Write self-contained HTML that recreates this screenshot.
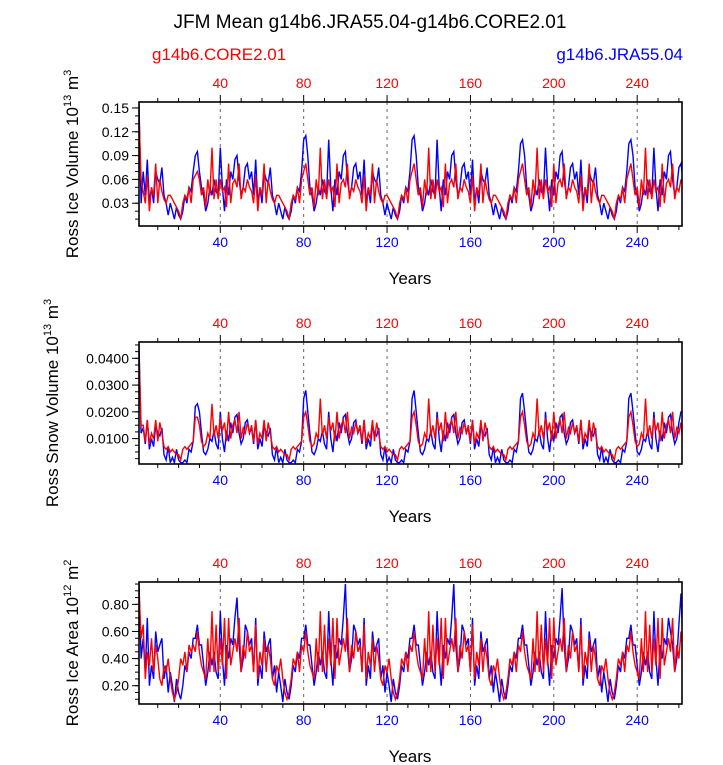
<!DOCTYPE html>
<html><head><meta charset="utf-8"><style>
body{margin:0;background:#fff;}
svg{display:block;font-family:"Liberation Sans",sans-serif;}
</style></head><body>
<svg id="chart" width="723" height="765" viewBox="0 0 723 765">
<text x="370" y="28" font-size="19" text-anchor="middle">JFM Mean g14b6.JRA55.04-g14b6.CORE2.01</text>
<text x="152" y="60" font-size="17" fill="#f00">g14b6.CORE2.01</text>
<text x="683" y="60" font-size="17" fill="#00f" text-anchor="end">g14b6.JRA55.04</text>
</svg>
<script>
const coreTicks = [40, 80, 120, 160, 200, 240];
const jraTicks = [40, 80, 120, 160, 200, 240];
const volTicks = [0.03, 0.06, 0.09, 0.12, 0.15];
const volTickLabels = ["0.03", "0.06", "0.09", "0.12", "0.15"];
const snowTicks = [0.01, 0.02, 0.03, 0.04];
const snowTickLabels = ["0.0100", "0.0200", "0.0300", "0.0400"];
const areaTicks = [0.2, 0.4, 0.6, 0.8];
const areaTickLabels = ["0.20", "0.40", "0.60", "0.80"];

const volJRA = [0.155,0.03,0.07,0.04,0.085,0.03,0.05,0.03,0.07,0.06,0.055,0.075,0.04,0.03,0.015,0.03,0.02,0.01,0.025,0.015,0.01,0.02,0.04,0.03,0.05,0.045,0.07,
0.09,0.095,0.07,0.05,0.04,0.02,0.03,0.05,0.04,0.06,0.045,0.04,0.1,0.05,0.02,0.06,0.04,0.07,0.06,0.085,0.09,0.06,0.04,0.05,0.075,0.08,0.06,0.07,0.04,0.085,0.03,0.05,0.03,0.07,0.06,0.055,0.075,0.04,0.03,0.015,0.03,0.02,0.01,0.025,0.015,0.01,0.02,0.04,0.03,0.05,0.045,0.07,
0.11,0.115,0.09,0.05,0.04,0.02,0.03,0.05,0.04,0.06,0.045,0.04,0.11,0.05,0.02,0.06,0.04,0.07,0.06,0.09,0.095,0.06,0.04,0.05,0.075,0.08,0.06,0.07,0.04,0.085,0.03,0.05,0.03,0.07,0.06,0.055,0.075,0.04,0.03,0.015,0.03,0.02,0.01,0.025,0.015,0.01,0.02,0.04,0.03,0.05,0.045,0.07,
0.11,0.115,0.09,0.05,0.04,0.02,0.03,0.05,0.04,0.06,0.045,0.04,0.11,0.05,0.02,0.06,0.04,0.07,0.06,0.09,0.095,0.06,0.04,0.05,0.075,0.08,0.06,0.07,0.04,0.085,0.03,0.05,0.03,0.07,0.06,0.055,0.075,0.04,0.03,0.015,0.03,0.02,0.01,0.025,0.015,0.01,0.02,0.04,0.03,0.05,0.045,0.07,
0.105,0.11,0.09,0.05,0.04,0.02,0.03,0.05,0.04,0.06,0.045,0.04,0.1,0.05,0.02,0.06,0.04,0.07,0.06,0.09,0.095,0.06,0.04,0.05,0.075,0.08,0.06,0.07,0.04,0.085,0.03,0.05,0.03,0.07,0.06,0.055,0.075,0.04,0.03,0.015,0.03,0.02,0.01,0.025,0.015,0.01,0.02,0.04,0.03,0.05,0.045,0.07,
0.105,0.11,0.09,0.05,0.04,0.02,0.03,0.05,0.04,0.06,0.045,0.04,0.1,0.05,0.02,0.06,0.04,0.07,0.06,0.09,0.095,0.06,0.04,0.05,0.075,0.08,0.06];
const volCORE = [0.14,0.06,0.045,0.03,0.065,0.02,0.05,0.04,0.08,0.03,0.06,0.045,0.035,0.03,0.04,0.04,0.035,0.03,0.025,0.02,0.01,0.03,0.04,0.035,0.05,0.03,0.06,
0.065,0.07,0.06,0.04,0.05,0.025,0.06,0.04,0.1,0.035,0.06,0.035,0.06,0.045,0.05,0.025,0.08,0.03,0.055,0.06,0.05,0.08,0.035,0.05,0.045,0.06,0.05,0.045,0.03,0.065,0.02,0.05,0.04,0.08,0.03,0.06,0.045,0.035,0.03,0.04,0.04,0.035,0.03,0.025,0.02,0.01,0.03,0.04,0.035,0.05,0.03,0.06,
0.07,0.08,0.06,0.04,0.05,0.025,0.06,0.04,0.1,0.035,0.06,0.035,0.06,0.045,0.05,0.025,0.08,0.03,0.055,0.06,0.05,0.08,0.035,0.05,0.045,0.06,0.05,0.045,0.03,0.065,0.02,0.05,0.04,0.08,0.03,0.06,0.045,0.035,0.03,0.04,0.04,0.035,0.03,0.025,0.02,0.01,0.03,0.04,0.035,0.05,0.03,0.06,
0.07,0.08,0.06,0.04,0.05,0.025,0.06,0.04,0.1,0.035,0.06,0.035,0.06,0.045,0.05,0.025,0.08,0.03,0.055,0.06,0.05,0.08,0.035,0.05,0.045,0.06,0.05,0.045,0.03,0.065,0.02,0.05,0.04,0.08,0.03,0.06,0.045,0.035,0.03,0.04,0.04,0.035,0.03,0.025,0.02,0.01,0.03,0.04,0.035,0.05,0.03,0.06,
0.07,0.08,0.06,0.04,0.05,0.025,0.06,0.04,0.1,0.035,0.06,0.035,0.06,0.045,0.05,0.025,0.08,0.03,0.055,0.06,0.05,0.08,0.035,0.05,0.045,0.06,0.05,0.045,0.03,0.065,0.02,0.05,0.04,0.08,0.03,0.06,0.045,0.035,0.03,0.04,0.04,0.035,0.03,0.025,0.02,0.01,0.03,0.04,0.035,0.05,0.03,0.06,
0.07,0.08,0.06,0.04,0.05,0.025,0.06,0.04,0.1,0.035,0.06,0.035,0.06,0.045,0.05,0.025,0.08,0.03,0.055,0.06,0.05,0.08,0.035,0.05,0.045,0.06,0.05];

const snowJRA = [0.045,0.012,0.014,0.008,0.017,0.006,0.01,0.007,0.015,0.012,0.011,0.014,0.004,0.002,0.007,0.001,0.003,0.001,0.006,0.002,0.001,0.001,0.002,0.001,0.006,0.005,0.009,
0.022,0.023,0.02,0.012,0.005,0.004,0.006,0.01,0.009,0.013,0.008,0.006,0.02,0.01,0.005,0.013,0.009,0.016,0.012,0.018,0.019,0.012,0.008,0.01,0.016,0.017,0.012,0.014,0.008,0.017,0.006,0.01,0.007,0.015,0.012,0.011,0.014,0.004,0.002,0.007,0.001,0.003,0.001,0.006,0.002,0.001,0.001,0.002,0.001,0.006,0.005,0.009,
0.025,0.028,0.02,0.012,0.005,0.004,0.006,0.01,0.009,0.013,0.008,0.006,0.02,0.01,0.005,0.013,0.009,0.016,0.012,0.018,0.019,0.012,0.008,0.01,0.016,0.017,0.012,0.014,0.008,0.017,0.006,0.01,0.007,0.015,0.012,0.011,0.014,0.004,0.002,0.007,0.001,0.003,0.001,0.006,0.002,0.001,0.001,0.002,0.001,0.006,0.005,0.009,
0.025,0.028,0.02,0.012,0.005,0.004,0.006,0.01,0.009,0.013,0.008,0.006,0.02,0.01,0.005,0.013,0.009,0.016,0.012,0.018,0.019,0.012,0.008,0.01,0.016,0.017,0.012,0.014,0.008,0.017,0.006,0.01,0.007,0.015,0.012,0.011,0.014,0.004,0.002,0.007,0.001,0.003,0.001,0.006,0.002,0.001,0.001,0.002,0.001,0.006,0.005,0.009,
0.025,0.027,0.02,0.012,0.005,0.004,0.006,0.01,0.009,0.013,0.008,0.006,0.02,0.01,0.005,0.013,0.009,0.016,0.012,0.018,0.019,0.012,0.008,0.01,0.016,0.017,0.012,0.014,0.008,0.017,0.006,0.01,0.007,0.015,0.012,0.011,0.014,0.004,0.002,0.007,0.001,0.003,0.001,0.006,0.002,0.001,0.001,0.002,0.001,0.006,0.005,0.009,
0.025,0.027,0.02,0.012,0.005,0.004,0.006,0.01,0.009,0.013,0.008,0.006,0.02,0.01,0.005,0.013,0.009,0.016,0.012,0.018,0.019,0.012,0.008,0.01,0.016,0.02,0.02];
const snowCORE = [0.04,0.015,0.015,0.009,0.017,0.008,0.012,0.01,0.017,0.009,0.016,0.012,0.007,0.006,0.007,0.005,0.006,0.005,0.004,0.004,0.002,0.006,0.007,0.006,0.007,0.008,0.009,
0.018,0.018,0.015,0.009,0.007,0.008,0.012,0.01,0.023,0.011,0.015,0.01,0.018,0.013,0.016,0.009,0.02,0.01,0.015,0.017,0.012,0.02,0.01,0.014,0.012,0.016,0.012,0.015,0.009,0.017,0.008,0.012,0.01,0.017,0.009,0.016,0.012,0.007,0.006,0.007,0.005,0.006,0.005,0.004,0.004,0.002,0.006,0.007,0.006,0.007,0.008,0.009,
0.018,0.02,0.015,0.009,0.007,0.008,0.012,0.01,0.025,0.011,0.015,0.01,0.018,0.013,0.016,0.009,0.02,0.01,0.015,0.017,0.012,0.02,0.01,0.014,0.012,0.016,0.012,0.015,0.009,0.017,0.008,0.012,0.01,0.017,0.009,0.016,0.012,0.007,0.006,0.007,0.005,0.006,0.005,0.004,0.004,0.002,0.006,0.007,0.006,0.007,0.008,0.009,
0.018,0.02,0.015,0.009,0.007,0.008,0.012,0.01,0.025,0.011,0.015,0.01,0.018,0.013,0.016,0.009,0.02,0.01,0.015,0.017,0.012,0.02,0.01,0.014,0.012,0.016,0.012,0.015,0.009,0.017,0.008,0.012,0.01,0.017,0.009,0.016,0.012,0.007,0.006,0.007,0.005,0.006,0.005,0.004,0.004,0.002,0.006,0.007,0.006,0.007,0.008,0.009,
0.018,0.02,0.015,0.009,0.007,0.008,0.012,0.01,0.025,0.011,0.015,0.01,0.018,0.013,0.016,0.009,0.02,0.01,0.015,0.017,0.012,0.02,0.01,0.014,0.012,0.016,0.012,0.015,0.009,0.017,0.008,0.012,0.01,0.017,0.009,0.016,0.012,0.007,0.006,0.007,0.005,0.006,0.005,0.004,0.004,0.002,0.006,0.007,0.006,0.007,0.008,0.009,
0.018,0.02,0.015,0.009,0.007,0.008,0.012,0.01,0.025,0.011,0.015,0.01,0.018,0.013,0.016,0.009,0.02,0.01,0.015,0.017,0.012,0.02,0.01,0.014,0.012,0.016,0.008];

const areaJRA = [0.95,0.4,0.55,0.3,0.7,0.2,0.35,0.25,0.6,0.45,0.5,0.55,0.25,0.35,0.15,0.3,0.2,0.08,0.25,0.15,0.1,0.2,0.35,0.3,0.45,0.4,0.55,
0.55,0.65,0.5,0.5,0.35,0.2,0.3,0.45,0.35,0.45,0.3,0.25,0.75,0.4,0.2,0.5,0.4,0.55,0.5,0.7,0.85,0.5,0.3,0.4,0.65,0.6,0.5,0.55,0.3,0.7,0.2,0.35,0.25,0.6,0.45,0.5,0.55,0.25,0.35,0.15,0.3,0.2,0.08,0.25,0.15,0.1,0.2,0.35,0.3,0.45,0.4,0.55,
0.55,0.65,0.5,0.5,0.35,0.2,0.3,0.45,0.35,0.45,0.3,0.25,0.75,0.4,0.2,0.5,0.4,0.55,0.5,0.7,0.95,0.5,0.3,0.4,0.65,0.6,0.5,0.55,0.3,0.7,0.2,0.35,0.25,0.6,0.45,0.5,0.55,0.25,0.35,0.15,0.3,0.2,0.08,0.25,0.15,0.1,0.2,0.35,0.3,0.45,0.4,0.55,
0.55,0.65,0.5,0.5,0.35,0.2,0.3,0.45,0.35,0.45,0.3,0.25,0.75,0.4,0.2,0.5,0.4,0.55,0.5,0.7,0.95,0.5,0.3,0.4,0.65,0.6,0.5,0.55,0.3,0.7,0.2,0.35,0.25,0.6,0.45,0.5,0.55,0.25,0.35,0.15,0.3,0.2,0.08,0.25,0.15,0.1,0.2,0.35,0.3,0.45,0.4,0.55,
0.55,0.65,0.5,0.5,0.35,0.2,0.3,0.45,0.35,0.45,0.3,0.25,0.75,0.4,0.2,0.5,0.4,0.55,0.5,0.7,0.92,0.5,0.3,0.4,0.65,0.6,0.5,0.55,0.3,0.7,0.2,0.35,0.25,0.6,0.45,0.5,0.55,0.25,0.35,0.15,0.3,0.2,0.08,0.25,0.15,0.1,0.2,0.35,0.3,0.45,0.4,0.55,
0.55,0.65,0.5,0.5,0.35,0.2,0.3,0.45,0.35,0.45,0.3,0.25,0.75,0.4,0.2,0.5,0.4,0.55,0.5,0.7,0.6,0.5,0.3,0.4,0.65,0.88,0.5];
const areaCORE = [0.9,0.55,0.65,0.25,0.45,0.35,0.55,0.3,0.5,0.4,0.25,0.2,0.35,0.3,0.4,0.25,0.15,0.1,0.15,0.25,0.4,0.35,0.45,0.3,0.5,0.45,0.5,
0.45,0.6,0.45,0.35,0.3,0.25,0.55,0.3,0.75,0.3,0.65,0.3,0.55,0.35,0.7,0.25,0.7,0.35,0.45,0.55,0.45,0.7,0.3,0.5,0.4,0.6,0.45,0.5,0.3,0.65,0.25,0.45,0.35,0.55,0.3,0.5,0.4,0.25,0.2,0.35,0.3,0.4,0.25,0.15,0.1,0.15,0.25,0.4,0.35,0.45,0.3,0.5,
0.45,0.6,0.45,0.35,0.3,0.25,0.55,0.3,0.75,0.3,0.65,0.3,0.55,0.35,0.7,0.25,0.7,0.35,0.45,0.55,0.45,0.7,0.3,0.5,0.4,0.6,0.45,0.5,0.3,0.65,0.25,0.45,0.35,0.55,0.3,0.5,0.4,0.25,0.2,0.35,0.3,0.4,0.25,0.15,0.1,0.15,0.25,0.4,0.35,0.45,0.3,0.5,
0.45,0.6,0.45,0.35,0.3,0.25,0.55,0.3,0.75,0.3,0.65,0.3,0.55,0.35,0.7,0.25,0.7,0.35,0.45,0.55,0.45,0.7,0.3,0.5,0.4,0.6,0.45,0.5,0.3,0.65,0.25,0.45,0.35,0.55,0.3,0.5,0.4,0.25,0.2,0.35,0.3,0.4,0.25,0.15,0.1,0.15,0.25,0.4,0.35,0.45,0.3,0.5,
0.45,0.6,0.45,0.35,0.3,0.25,0.55,0.3,0.75,0.3,0.65,0.3,0.55,0.35,0.7,0.25,0.7,0.35,0.45,0.55,0.45,0.7,0.3,0.5,0.4,0.6,0.45,0.5,0.3,0.65,0.25,0.45,0.35,0.55,0.3,0.5,0.4,0.25,0.2,0.35,0.3,0.4,0.25,0.15,0.1,0.15,0.25,0.4,0.35,0.45,0.3,0.5,
0.45,0.6,0.45,0.35,0.3,0.25,0.55,0.3,0.75,0.3,0.65,0.3,0.55,0.35,0.7,0.25,0.7,0.35,0.45,0.55,0.45,0.7,0.3,0.5,0.4,0.6,0.45,0.5,0.3,0.65,0.6,0.5];

const NS = "http://www.w3.org/2000/svg";
const svg = document.getElementById("chart");
function mk(tag, attrs, parent) {
  const e = document.createElementNS(NS, tag);
  for (const k in attrs) e.setAttribute(k, attrs[k]);
  (parent || svg).appendChild(e);
  return e;
}
const X0 = 139, X1 = 682, YR0 = 1, YR1 = 261.5;
function xs(yr) { return X0 + (yr - YR0) / (YR1 - YR0) * (X1 - X0); }

function panel(cfg) {
  const g = mk("g", {});
  
  
  const ys = v => cfg.bot - (v - cfg.vmin) / (cfg.vmax - cfg.vmin) * (cfg.bot - cfg.top);
  // grid
  for (const t of coreTicks) {
    const l = mk("line", {x1: xs(t), x2: xs(t), y1: cfg.top, y2: cfg.bot, stroke: "#666", "stroke-dasharray": "3,4", "stroke-width": 1}, g);
    
    
  }
  // x ticks minor and major
  for (let yr = 10; yr <= 260; yr += 10) {
    const major = yr % 40 === 0;
    const len = major ? 7 : 4;
    mk("line", {x1: xs(yr), x2: xs(yr), y1: cfg.top, y2: cfg.top - len, stroke: "#000", "stroke-width": 1}, g);
    mk("line", {x1: xs(yr), x2: xs(yr), y1: cfg.bot, y2: cfg.bot + len, stroke: "#000", "stroke-width": 1}, g);
  }
  coreTicks.forEach(t => {
    const tx = mk("text", {x: xs(t), y: cfg.top - 14, "font-size": 14, fill: "#f00", "text-anchor": "middle"}, g);
    tx.textContent = t;
    
    
  });
  jraTicks.forEach(t => {
    const tx = mk("text", {x: xs(t), y: cfg.bot + 21, "font-size": 14, fill: "#00f", "text-anchor": "middle"}, g);
    tx.textContent = t;
    
    
  });
  // y minor
  for (let v = cfg.minorStart; v < cfg.vmax; v += cfg.minorStep) {
    if (v <= cfg.vmin) continue;
    mk("line", {x1: X0, x2: X0 - 4, y1: ys(v), y2: ys(v), stroke: "#000", "stroke-width": 1}, g);
  }
  cfg.ticks.forEach((t, i) => {
    mk("line", {x1: X0, x2: X0 - 7, y1: ys(t), y2: ys(t), stroke: "#000", "stroke-width": 1}, g);
    const tx = mk("text", {x: X0 - 10, y: ys(t) + 5, "font-size": 14, "text-anchor": "end"}, g);
    tx.textContent = cfg.labels[i];
    
    
  });
  // series
  const clip = mk("clipPath", {id: "c" + cfg.name}, g);
  mk("rect", {x: X0, y: cfg.top, width: X1 - X0, height: cfg.bot - cfg.top}, clip);
  [[cfg.jra, "#00f", "jra-line"], [cfg.core, "#f00", "core-line"]].forEach(([arr, col, nm]) => {
    const d = arr.map((v, i) => (i ? "L" : "M") + xs(i + 1).toFixed(1) + "," + ys(v).toFixed(1)).join("");
    const p = mk("path", {d: d, fill: "none", stroke: col, "stroke-width": 1.4, "clip-path": "url(#c" + cfg.name + ")"}, g);
    
    
  });
  const fr = mk("rect", {x: X0, y: cfg.top, width: X1 - X0, height: cfg.bot - cfg.top, fill: "none", stroke: "#000", "stroke-width": 1.6}, g);
  
  
  const xt = mk("text", {x: 410, y: cfg.bot + 58, "font-size": 17, "text-anchor": "middle"}, g);
  xt.textContent = "Years";
  
  
  const cy = (cfg.top + cfg.bot) / 2;
  const yt = mk("text", {x: cfg.tx, y: cy, "font-size": 17, "text-anchor": "middle", transform: "rotate(-90 " + cfg.tx + " " + cy + ")"}, g);
  yt.innerHTML = cfg.title + ' 10<tspan dy="-7" font-size="11">' + cfg.exp + '</tspan><tspan dy="7"> m</tspan><tspan dy="-7" font-size="11">' + cfg.unit + '</tspan>';
  
  
}

panel({name: "ice-volume-panel", top: 102, bot: 226, vmin: 0.0013, vmax: 0.1575, ticks: volTicks, labels: volTickLabels, minorStart: 0.01, minorStep: 0.01, jra: volJRA, core: volCORE, title: "Ross Ice Volume", exp: "13", unit: "3", tx: 78});
panel({name: "snow-volume-panel", top: 342, bot: 464, vmin: 0.0005, vmax: 0.0461, ticks: snowTicks, labels: snowTickLabels, minorStart: 0.0025, minorStep: 0.0025, jra: snowJRA, core: snowCORE, title: "Ross Snow Volume", exp: "13", unit: "3", tx: 58});
panel({name: "ice-area-panel", top: 582, bot: 704, vmin: 0.065, vmax: 0.965, ticks: areaTicks, labels: areaTickLabels, minorStart: 0.1, minorStep: 0.05, jra: areaJRA, core: areaCORE, title: "Ross Ice Area", exp: "12", unit: "2", tx: 78});
</script>
</body></html>
